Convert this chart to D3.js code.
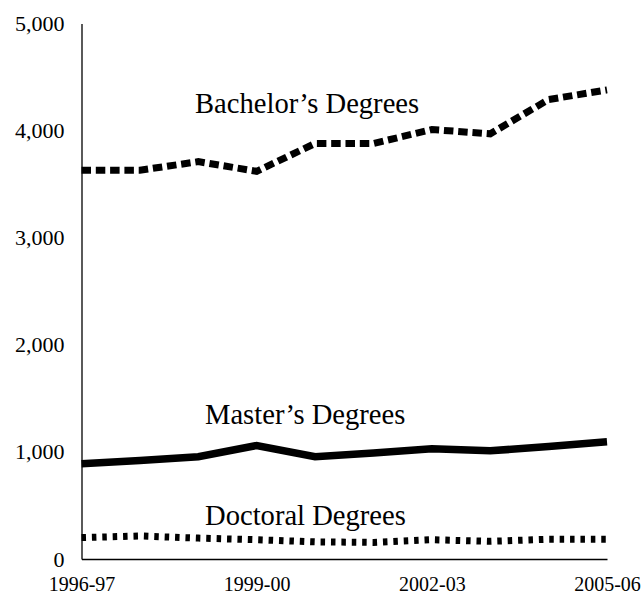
<!DOCTYPE html>
<html>
<head>
<meta charset="utf-8">
<script src="https://cdn.jsdelivr.net/npm/d3@7"></script>
<style>
  html, body { margin: 0; padding: 0; background: #fff; }
  svg { display: block; }
  text { font-family: "Liberation Serif", "DejaVu Serif", serif; fill: #000; }
</style>
</head>
<body>
<svg id="chart" width="643" height="595"></svg>
<script>
const years = ["1996-97","1997-98","1998-99","1999-00","2000-01","2001-02","2002-03","2003-04","2004-05","2005-06"];
const tickYears = ["1996-97","1999-00","2002-03","2005-06"];
const bachelors = [3630, 3630, 3710, 3620, 3880, 3880, 4010, 3970, 4290, 4380];
const masters   = [890, 920, 955, 1060, 955, 990, 1030, 1010, 1050, 1095];
const doctoral  = [200, 215, 195, 180, 160, 155, 180, 165, 185, 185];
const yTicks = [0, 1000, 2000, 3000, 4000, 5000];
const seriesNames = ["Bachelor’s Degrees", "Master’s Degrees", "Doctoral Degrees"];

const svg = d3.select("#chart");
const x = d3.scalePoint().domain(years).range([81.5, 607]);
const y = d3.scaleLinear().domain([0, 5000]).range([559, 23.5]);

// axes
const yAxis = d3.axisLeft(y).tickValues(yTicks).tickSize(0).tickPadding(17)
  .tickFormat(d3.format(","));
const gy = svg.append("g").attr("transform", "translate(81.5,0)").call(yAxis);
gy.attr("font-family", null).attr("font-size", null);
gy.select(".domain").attr("stroke", "#000").attr("stroke-width", 1.3);
gy.selectAll("text").attr("font-size", 22);

const xAxis = d3.axisBottom(x).tickValues(tickYears).tickSize(0).tickPadding(18);
const gx = svg.append("g").attr("transform", "translate(0,559)").call(xAxis);
gx.attr("font-family", null).attr("font-size", null);
gx.select(".domain").attr("stroke", "#000").attr("stroke-width", 1.3);
gx.selectAll("text").attr("font-size", 20);

const line = d3.line().x((d, i) => x(years[i])).y(d => y(d));

const series = [
  { data: bachelors, dash: "9.5,4.8", width: 7 },
  { data: masters, dash: null, width: 7.5 },
  { data: doctoral, dash: "4.5,5.9", width: 7 }
];
series.forEach(s => {
  const p = svg.append("path").datum(s.data)
    .attr("d", line)
    .attr("fill", "none")
    .attr("stroke", "#000")
    .attr("stroke-width", s.width)
    .attr("stroke-linejoin", "miter");
  if (s.dash) p.attr("stroke-dasharray", s.dash);
});

// series labels
const labelPos = [
  { name: seriesNames[0], x: 195, y: 113 },
  { name: seriesNames[1], x: 205, y: 424 },
  { name: seriesNames[2], x: 205, y: 525 }
];
svg.selectAll("text.series").data(labelPos).enter().append("text")
  .attr("class", "series")
  .attr("x", d => d.x).attr("y", d => d.y)
  .attr("font-size", 28.6)
  .text(d => d.name);
</script>
</body>
</html>
